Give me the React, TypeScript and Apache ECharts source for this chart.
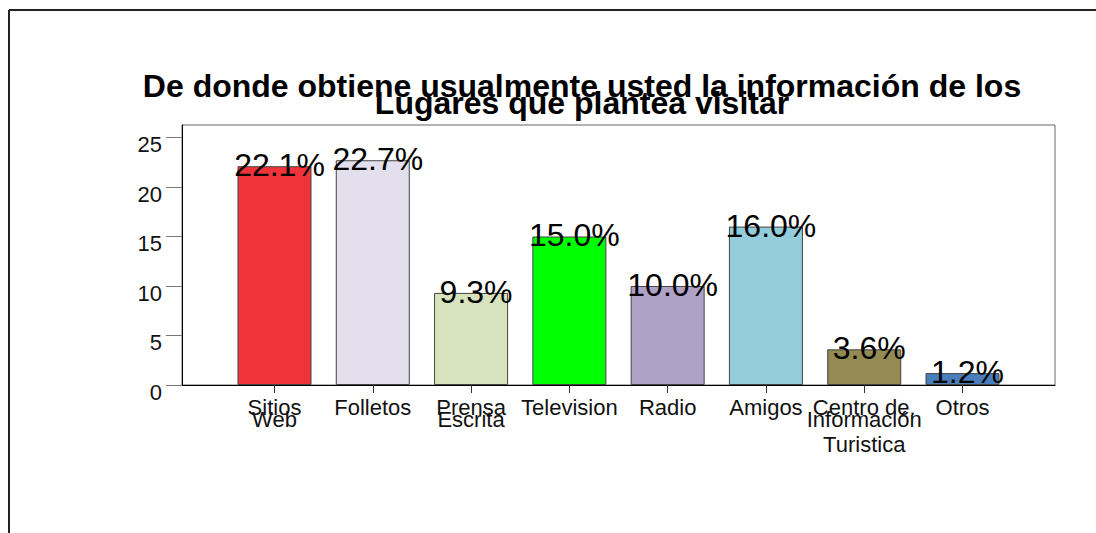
import React, { useEffect, useRef } from 'react';
import * as echarts from 'echarts';

const TITLE = 'De donde obtiene usualmente usted la información de los\nLugares que plantea visitar';
const categories = ['Sitios\nWeb', 'Folletos', 'Prensa\nEscrita', 'Television', 'Radio', 'Amigos', 'Centro de.\nInformación\nTuristica', 'Otros'];
const percentages = [22.1, 22.7, 9.3, 15.0, 10.0, 16.0, 3.6, 1.2];
const barColors = ['#ef3339', '#e3dfec', '#d7e3bd', '#00ff00', '#b0a1c7', '#93cddc', '#948a54', '#4a7ebb'];
const yTicks = [0, 5, 10, 15, 20, 25];

const FONT = '"Liberation Sans", Arial, Helvetica, sans-serif';

export default function App() {
  const ref = useRef<HTMLDivElement>(null);
  useEffect(() => {
    document.body.style.margin = '0';
    const chart = echarts.init(ref.current!, null, { renderer: 'svg' });
    const catIdx = categories.map((_, i) => i);
    chart.setOption({
      animation: false,
      backgroundColor: '#ffffff',
      title: {
        text: TITLE,
        left: 577,
        top: 72,
        textAlign: 'center',
        textStyle: {
          fontFamily: FONT,
          fontSize: 32,
          fontWeight: 'bold',
          color: '#000',
          lineHeight: 17,
        },
      },
      graphic: [
        { type: 'line', shape: { x1: 9, y1: 10, x2: 1096, y2: 10 }, style: { stroke: '#222', lineWidth: 2 } },
        { type: 'line', shape: { x1: 9, y1: 10, x2: 9, y2: 533 }, style: { stroke: '#222', lineWidth: 2 } },
      ],
      grid: {
        left: 182,
        top: 125,
        right: 41,
        bottom: 148,
        show: true,
        borderColor: '#666',
        borderWidth: 1,
      },
      xAxis: {
        type: 'value',
        min: -0.941,
        max: 7.941,
        splitLine: { show: false },
        axisLine: { show: true, onZero: false, lineStyle: { color: '#000', width: 1 } },
        axisTick: { show: true, customValues: catIdx, length: 8, lineStyle: { color: '#333' } },
        axisLabel: {
          customValues: catIdx,
          margin: 17,
          fontFamily: FONT,
          fontSize: 22,
          color: '#111',
          formatter: (v: number) => {
            const lines = (categories[Math.round(v)] || '').split('\n');
            return lines.map((l, i) => (i < 2 ? `{a|${l}}` : `{c|${l}}`)).join('\n');
          },
          rich: {
            a: { fontFamily: FONT, fontSize: 22, lineHeight: 11.5, color: '#111' },
            c: { fontFamily: FONT, fontSize: 22, lineHeight: 38.5, color: '#111' },
          },
        },
      },
      yAxis: {
        type: 'value',
        min: 0,
        max: 26.26,
        interval: 5,
        splitLine: { show: false },
        axisLine: { show: true, onZero: false, lineStyle: { color: '#000', width: 1 } },
        axisTick: { show: true, customValues: yTicks, length: 16, lineStyle: { color: '#777' } },
        axisLabel: {
          customValues: yTicks,
          margin: 20,
          fontFamily: FONT,
          fontSize: 22,
          lineHeight: 15,
          verticalAlign: 'top',
          color: '#111',
        },
      },
      series: [
        {
          type: 'bar',
          barWidth: 74,
          data: percentages.map((v, i) => ({ value: [i, v], itemStyle: { color: barColors[i] } })),
          itemStyle: { borderColor: '#444', borderWidth: 1 },
          label: {
            show: true,
            position: 'insideTop',
            distance: 0,
            align: 'center',
            verticalAlign: 'middle',
            offset: [5, -1],
            fontFamily: FONT,
            fontSize: 32,
            color: '#000',
            formatter: (p: any) => `${p.value[1].toFixed(1)}%`,
          },
        },
      ],
    });
    return () => chart.dispose();
  }, []);
  return <div ref={ref} style={{ width: 1096, height: 533 }} />;
}
